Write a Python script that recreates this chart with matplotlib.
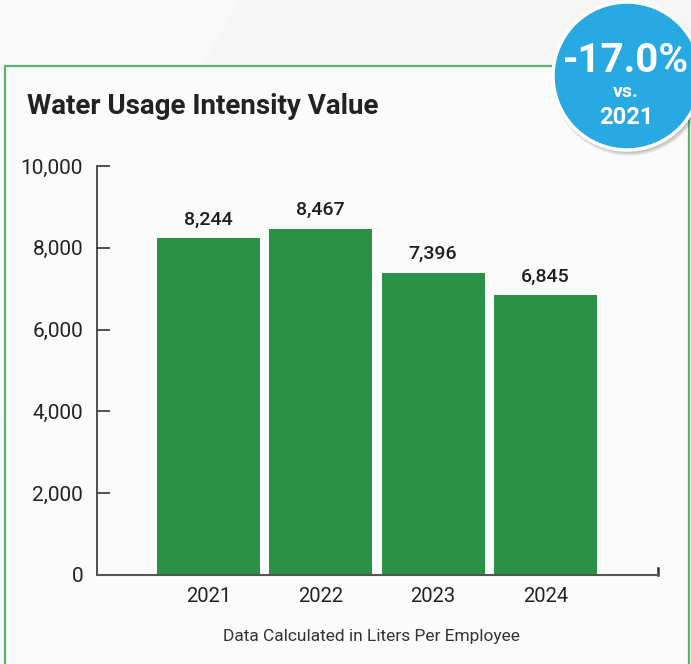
import matplotlib.pyplot as plt
import matplotlib.patches as mpatches
import matplotlib.ticker as mticker

years = ['2021', '2022', '2023', '2024']
usage = [8244, 8467, 7396, 6845]
yticks = [0, 2000, 4000, 6000, 8000, 10000]
change_text = '-17.0%'
base_year = '2021'

plt.rcParams['font.family'] = ['Roboto', 'DejaVu Sans']
W, H = 691, 664
fig = plt.figure(figsize=(W / 100, H / 100), dpi=100)
fig.patch.set_facecolor('#f6f6f6')

# pixel-space overlay for the card frame and the badge
over = fig.add_axes([0, 0, 1, 1], zorder=0)
over.set_xlim(0, W)
over.set_ylim(H, 0)
over.axis('off')
over.add_patch(mpatches.Polygon([[0, 0], [240, 0], [0, 420]], closed=True,
                                facecolor='#f9f9f9', edgecolor='none'))
over.add_patch(mpatches.Rectangle((5, 66), 684, 620, facecolor='#fbfbfb',
                                  edgecolor='#5cb36d', linewidth=1.6))

ax = fig.add_axes([97 / W, 1 - 575 / H, 561 / W, 409 / H], zorder=2)
ax.patch.set_alpha(0)
x = range(len(years))
bars = ax.bar(x, usage, width=0.915, color='#2a9146', zorder=2)
for xi, v in zip(x, usage):
    ax.text(xi, v + 230, f'{v:,}', ha='center', va='bottom', fontsize=14,
            fontweight='medium', color='#1e1e1e')

ax.set_xlim(-0.99, 4.0)
ax.set_ylim(0, 10000)
ax.set_yticks(yticks)
ax.yaxis.set_major_formatter(mticker.FuncFormatter(lambda v, p: f'{int(v):,}'))
ax.set_xticks(list(x))
ax.set_xticklabels(years)
ax.tick_params(axis='x', length=0, pad=9, labelsize=14.5, labelcolor='#222222')
ax.tick_params(axis='y', direction='in', length=9, width=1.2, color='#333333',
               pad=10, labelsize=15, labelcolor='#222222')
for s in ['top', 'right']:
    ax.spines[s].set_visible(False)
ax.spines['left'].set_color('#333333')
ax.spines['bottom'].set_color('#555555')
ax.spines['left'].set_linewidth(1.2)
ax.spines['bottom'].set_linewidth(1.5)
ax.plot([1, 1], [0, 0.018], transform=ax.transAxes, color='#333333',
        linewidth=1.8, clip_on=False)

top = fig.add_axes([0, 0, 1, 1], zorder=3)
top.set_xlim(0, W)
top.set_ylim(H, 0)
top.axis('off')
top.text(27, 107, 'Water Usage Intensity Value', fontsize=20, fontweight='bold',
         color='#222222', ha='left', va='center')
top.text(371, 637, 'Data Calculated in Liters Per Employee', fontsize=12.5,
         color='#333333', ha='center', va='center')

# badge with soft shadow
for i, a in enumerate([0.05, 0.05, 0.06, 0.07]):
    top.add_patch(mpatches.Circle((629, 79), 77 - i, facecolor='#000000',
                                  alpha=a, edgecolor='none'))
top.add_patch(mpatches.Circle((627, 76), 74, facecolor='#29a9e1',
                              edgecolor='white', linewidth=2.5))
top.text(626, 61, change_text, fontsize=29, fontweight='bold', color='white',
         ha='center', va='center')
top.text(626, 92, 'vs.', fontsize=14, fontweight='bold', color='white',
         ha='center', va='center')
top.text(626, 117, base_year, fontsize=17, fontweight='bold', color='white',
         ha='center', va='center')

fig.savefig('out.png', dpi=100, facecolor=fig.get_facecolor())
